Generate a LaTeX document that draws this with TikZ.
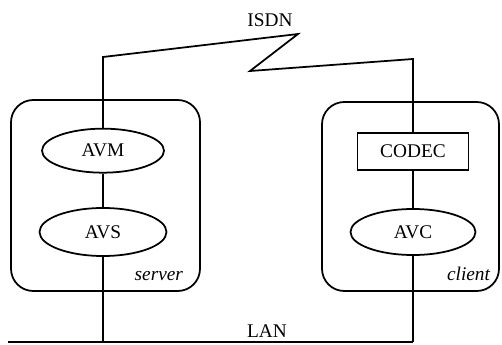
\documentclass[tikz,border=0pt]{standalone}
\usepackage{fontspec}
\setmainfont{Liberation Serif}
\usetikzlibrary{positioning, shapes.geometric}

\begin{document}
\begin{tikzpicture}[
    line width=1.5pt,
    txt/.style={font=\fontsize{16.5}{19}\selectfont},
    host/.style={draw, rounded corners=19pt, inner sep=0pt},
    proc/.style={txt, draw, ellipse, inner sep=0pt,
                 minimum width=3.75cm, minimum height=1.38cm},
    unit/.style={txt, draw, rectangle, inner sep=0pt,
                 minimum width=3.33cm, minimum height=1.11cm},
    tag/.style={font=\fontsize{16.5}{19}\selectfont\itshape, anchor=base east, inner sep=0pt}]
  \useasboundingbox (0,0) rectangle (15.06,10.32);

  \node[host, minimum width=5.67cm, minimum height=5.73cm] (srv) at (3.165,4.455) {};
  \node[host, minimum width=5.31cm, minimum height=5.67cm] (cli) at (12.315,4.425) {};

  \node[proc, minimum width=3.66cm, minimum height=1.32cm] (avm) at (3.09,5.8) {AVM};
  \node[proc, minimum width=3.81cm, minimum height=1.44cm] (avs) at (3.09,3.36) {AVS};
  \node[unit] (codec) at (12.39,5.77) {CODEC};
  \node[proc] (avc) at (12.39,3.36) {AVC};

  \node[tag] (srvtag) at ([xshift=-0.51cm, yshift=0.33cm]srv.south east) {server};
  \node[tag] (clitag) at ([xshift=-0.27cm, yshift=0.33cm]cli.south east) {client};

  \node[txt] (isdn) at (8.1,9.72) {ISDN};
  \node[txt, anchor=base] (lan) at (8.01,0.2) {LAN};

  \coordinate (isdnA) at (3.09,8.61);
  \coordinate (isdnB) at (8.94,9.30);
  \coordinate (isdnC) at (7.50,8.19);
  \coordinate (isdnD) at (12.39,8.55);
  \coordinate (lanA) at (0.24,0.07);
  \coordinate (lanB) at (12.39,0.07);

  \draw (avm) -- (isdnA) -- (isdnB) -- (isdnC) -- (isdnD) -- (codec);
  \draw (avm) -- (avs);
  \draw (codec) -- (avc);
  \draw (lanA) -- (lanB);
  \draw (avs) -- (avs |- lanA);
  \draw (avc) -- (lanB);
\end{tikzpicture}
\end{document}
